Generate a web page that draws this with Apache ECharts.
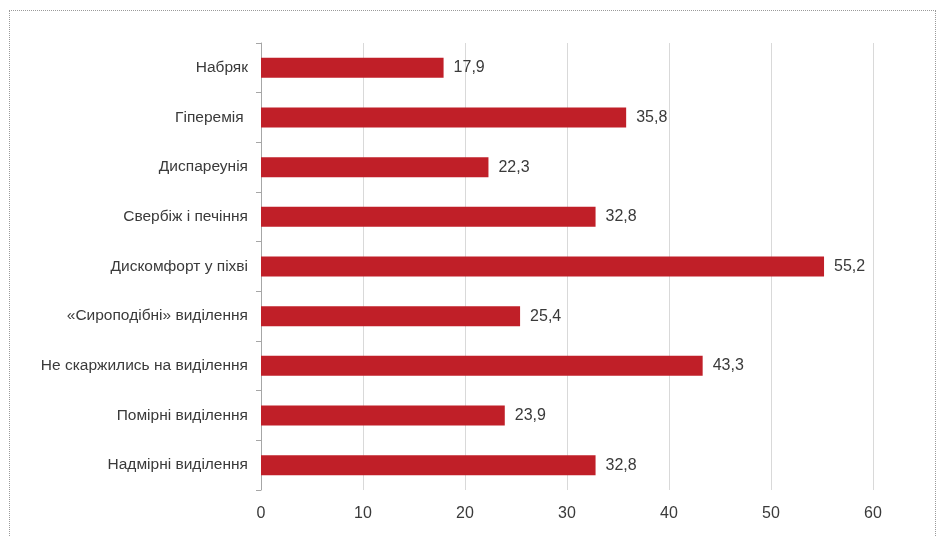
<!DOCTYPE html>
<html>
<head>
<meta charset="utf-8">
<script src="https://cdn.jsdelivr.net/npm/echarts@6/dist/echarts.min.js"></script>
<style>
  html, body { margin: 0; padding: 0; background: #fff; }
  #chart { width: 941px; height: 537px; position: relative; }
  .frame {
    position: absolute; left: 9px; top: 10px; width: 927px; height: 540px;
    border: 1px dotted #9a9a9a; box-sizing: border-box; pointer-events: none;
  }
</style>
</head>
<body>
<div id="chart"></div>
<div class="frame"></div>
<script>
  // symptom categories, top to bottom
  const categories = [
    'Набряк',
    'Гіперемія ',
    'Диспареунія',
    'Свербіж і печіння',
    'Дискомфорт у піхві',
    '«Сироподібні» виділення',
    'Не скаржились на виділення',
    'Помірні виділення',
    'Надмірні виділення'
  ];

  const values = [17.9, 35.8, 22.3, 32.8, 55.2, 25.4, 43.3, 23.9, 32.8];

  const xTicks = [0, 10, 20, 30, 40, 50, 60];

  const chart = echarts.init(document.getElementById('chart'));
  const fontFamily = '"Liberation Sans", Arial, sans-serif';

  chart.setOption({
    animation: false,
    textStyle: { fontFamily },
    grid: { left: 261, right: 68, top: 43, bottom: 47, containLabel: false },
    xAxis: {
      type: 'value',
      min: xTicks[0],
      max: xTicks[xTicks.length - 1],
      interval: 10,
      axisLine: { show: false },
      axisTick: { show: false },
      axisLabel: { color: '#3a3a3a', fontSize: 16, margin: 16, fontFamily },
      splitLine: { show: true, lineStyle: { color: '#d9d9d9', width: 1 } }
    },
    yAxis: {
      type: 'category',
      data: categories,
      inverse: true,
      axisLine: { show: true, lineStyle: { color: '#a6a6a6', width: 1 } },
      axisTick: { show: true, length: 5, lineStyle: { color: '#a6a6a6' } },
      axisLabel: { color: '#3a3a3a', fontSize: 15.5, margin: 13, fontFamily }
    },
    series: [
      {
        type: 'bar',
        data: values,
        barWidth: 20,
        itemStyle: { color: '#c01f28' },
        label: {
          show: true,
          position: 'right',
          distance: 10,
          color: '#3a3a3a',
          fontSize: 16,
          fontFamily,
          formatter: p => p.value.toFixed(1).replace('.', ',')
        }
      }
    ]
  });
</script>
</body>
</html>
